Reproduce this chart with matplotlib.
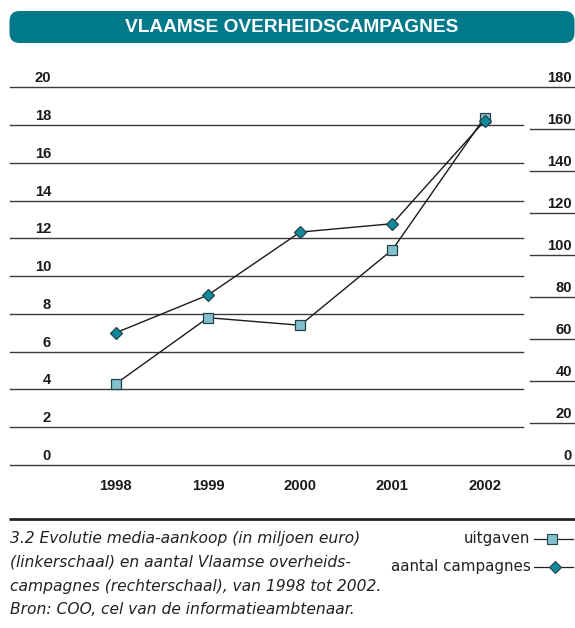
import matplotlib
matplotlib.use("Agg")
import matplotlib.pyplot as plt
from matplotlib.patches import FancyBboxPatch
from matplotlib.transforms import offset_copy

# data
years = ["1998", "1999", "2000", "2001", "2002"]
uitgaven = [4.3, 7.8, 7.4, 11.4, 18.4]          # miljoen euro, left scale
campagnes = [63, 81, 111, 115, 164]              # aantal, right scale
left_ticks = [0, 2, 4, 6, 8, 10, 12, 14, 16, 18, 20]
right_ticks = [0, 20, 40, 60, 80, 100, 120, 140, 160, 180]

title = "VLAAMSE OVERHEIDSCAMPAGNES"
caption = ["3.2 Evolutie media-aankoop (in miljoen euro)",
           "(linkerschaal) en aantal Vlaamse overheids-",
           "campagnes (rechterschaal), van 1998 tot 2002.",
           "Bron: COO, cel van de informatieambtenaar."]

W, H = 575, 628
teal = "#00798b"
sq_face = "#84bfcd"
dia_face = "#0e8a9c"
edge = "#24414a"
grid_c = "#3a3a3a"
bold_font = "Liberation Sans"

fig = plt.figure(figsize=(W / 100, H / 100), dpi=100)

# overlay in pixel coordinates for title bar, caption and legend
ov = fig.add_axes([0, 0, 1, 1])
ov.set_xlim(0, W)
ov.set_ylim(H, 0)
ov.axis("off")

bar = FancyBboxPatch((9.5, 11), 565, 32, boxstyle="round,pad=0,rounding_size=10",
                     fc=teal, ec="none")
ov.add_patch(bar)
ov.text(292, 27.5, title, color="white", fontsize=13.8, fontweight="bold",
        family=bold_font, ha="center", va="center")

ov.plot([9, 575], [519, 519], color="#222222", lw=2.0, solid_capstyle="butt")
for i, line in enumerate(caption):
    ov.text(10, 538 + i * 24, line, fontsize=11.2, style="italic",
            family="DejaVu Sans", color="#222222", ha="left", va="center")

ov.text(530.5, 538.5, "uitgaven", fontsize=10.9, family="DejaVu Sans",
        color="#222222", ha="right", va="center")
ov.text(530.5, 566.5, "aantal campagnes", fontsize=10.9, family="DejaVu Sans",
        color="#222222", ha="right", va="center")
ov.plot([534, 573], [538.5, 538.5], color="#222222", lw=0.9)
ov.plot([552], [538.5], marker="s", ms=7.5, mfc=sq_face, mec=edge, mew=0.8)
ov.plot([534, 573], [566.5, 566.5], color="#222222", lw=0.9)
ov.plot([555], [566.5], marker="D", ms=6, mfc=dia_face, mec=edge, mew=0.8)

# chart axes: x from 10 to 575 px, y from 465 (0) to 87.3 (20)
x0, dx = 115.8, 92.2
ax = fig.add_axes([10 / W, 1 - 465 / H, 565 / W, 377.7 / H])
ax.patch.set_visible(False)
ax.set_xlim((10 - x0) / dx, (575 - x0) / dx)
ax.set_ylim(0, 20)
ax.axis("off")
ax2 = ax.twinx()
ax2.set_ylim(0, 180)
ax2.axis("off")

main_end = (522.7 - 10) / 565
under_start = (530 - 10) / 565
for v in left_ticks:
    full = v in (left_ticks[0], left_ticks[-1])
    ax.axhline(v, xmin=0, xmax=1 if full else main_end, color=grid_c, lw=1.0,
               clip_on=False)
for v in right_ticks[1:-1]:
    ax2.axhline(v, xmin=under_start, xmax=1, color=grid_c, lw=1.0, clip_on=False)

lt = offset_copy(ax.get_yaxis_transform(), fig=fig, y=9, units="dots")
for v in left_ticks:
    ax.text((51 - 10) / 565, v, str(v), transform=lt, ha="right", va="center",
            fontsize=10.6, fontweight="bold", family=bold_font, color="#1a1a1a")
rt = offset_copy(ax2.get_yaxis_transform(), fig=fig, y=9, units="dots")
for v in right_ticks:
    ax2.text((572 - 10) / 565, v, str(v), transform=rt, ha="right", va="center",
             fontsize=10.6, fontweight="bold", family=bold_font, color="#1a1a1a")

xs = list(range(len(years)))
for i, y in zip(xs, years):
    ax.text(i, (465 - 486) / 377.7, y, transform=ax.get_xaxis_transform(),
            ha="center", va="center", fontsize=10.6, fontweight="bold",
            family=bold_font, color="#1a1a1a")

ax.plot(xs, uitgaven, color="#1a1a1a", lw=1.0, marker="s", ms=7.5,
        mfc=sq_face, mec=edge, mew=0.9, clip_on=False, zorder=3)
ax2.plot(xs, campagnes, color="#1a1a1a", lw=1.0, marker="D", ms=6,
         mfc=dia_face, mec=edge, mew=0.9, clip_on=False, zorder=4)

fig.savefig("out.png", dpi=100)
